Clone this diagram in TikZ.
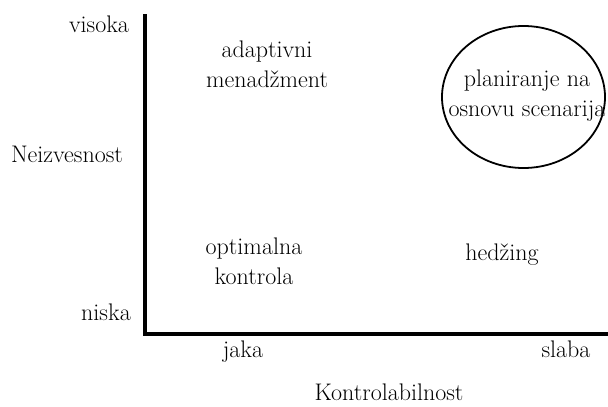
\documentclass[tikz,border=0pt]{standalone}
\begin{document}
\begin{tikzpicture}[x=1pt,y=-1pt,
  lbl/.style={font=\fontsize{24}{30}\selectfont, inner sep=0pt, align=center},
  axis/.style={line width=4.5pt, line join=miter},
  oval/.style={draw, line width=1.8pt}]
\useasboundingbox (0,0) rectangle (608,407);
\coordinate (top) at (145,14);
\coordinate (corner) at (145,334);
\coordinate (right) at (608,334);
\draw[axis] (top) -- (corner) -- (right);
\node[lbl, anchor=base] (visoka) at (99,32) {visoka};
\node[lbl, anchor=base] (neiz) at (67,162) {Neizvesnost};
\node[lbl, anchor=base] (niska) at (106,320) {niska};
\node[lbl, anchor=base] (jaka) at (243,357) {jaka};
\node[lbl, anchor=base] (slaba) at (566,357) {slaba};
\node[lbl, anchor=base] (kontr) at (389,400) {Kontrolabilnost};
\node[lbl] (adapt) at (267,64) {adaptivni\\menad\v{z}ment};
\node[lbl] (optim) at (254,261) {optimalna\\kontrola};
\node[lbl, anchor=base] (hedz) at (502,260) {hed\v{z}ing};
\coordinate (ellc) at (523.5,97);
\draw[oval] (ellc) ellipse [x radius=81.5, y radius=71];
\node[lbl] (plan) at (527,96) {planiranje na\\osnovu scenarija};
\end{tikzpicture}
\end{document}
